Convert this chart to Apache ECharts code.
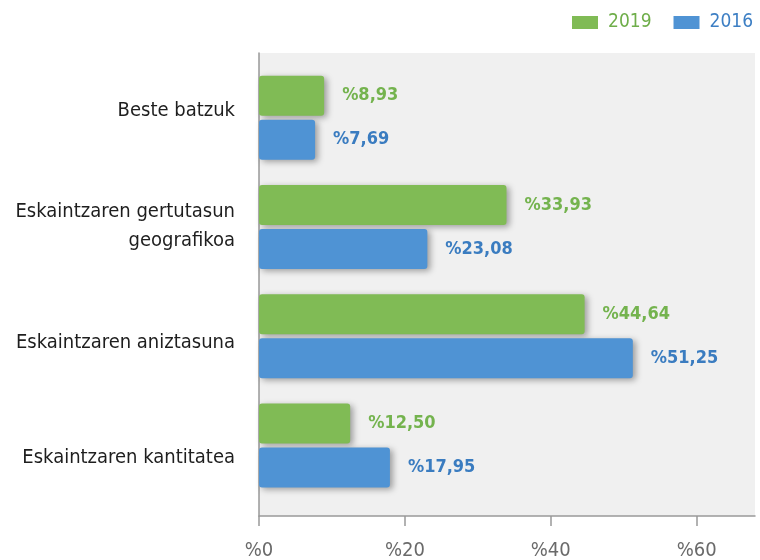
<!DOCTYPE html>
<html>
<head>
<meta charset="utf-8">
<script src="https://cdn.jsdelivr.net/npm/echarts@6/dist/echarts.min.js"></script>
<style>
  html, body { margin: 0; padding: 0; background: #fff; }
  #chart { width: 760px; height: 560px; }
</style>
</head>
<body>
<div id="chart"></div>
<script>
// data
const categories = [
  'Beste batzuk',
  'Eskaintzaren gertutasun\ngeografikoa',
  'Eskaintzaren aniztasuna',
  'Eskaintzaren kantitatea'
];
const values2019 = [8.93, 33.93, 44.64, 12.50];
const values2016 = [7.69, 23.08, 51.25, 17.95];
const xTicks = [0, 20, 40, 60];

const FONT = '"DejaVu Sans Condensed", "Liberation Sans Narrow", sans-serif';
const GREEN = '#80bb55';
const BLUE = '#4f93d4';

const pct = v => '%' + v.toFixed(2).replace('.', ',');

function barSeries(name, data, color, textColor) {
  return {
    name: name,
    type: 'bar',
    xAxisIndex: 1,
    yAxisIndex: 1,
    data: data,
    barWidth: 40,
    barGap: '10%',
    itemStyle: {
      color: color,
      borderRadius: 3,
      shadowColor: 'rgba(0,0,0,0.35)',
      shadowBlur: 6,
      shadowOffsetX: 3,
      shadowOffsetY: 2
    },
    label: {
      show: true,
      position: 'right',
      distance: 18,
      formatter: p => pct(p.value),
      color: textColor,
      fontFamily: FONT,
      fontWeight: 'bold',
      fontSize: 18
    }
  };
}

const chart = echarts.init(document.getElementById('chart'));

chart.setOption({
  animation: false,
  legend: {
    right: 2,
    top: 8,
    icon: 'rect',
    itemWidth: 26,
    itemHeight: 13,
    itemGap: 22,
    textStyle: { fontFamily: FONT, fontSize: 19, padding: [0, 0, 0, 5] },
    data: [
      { name: '2019', textStyle: { color: '#6fae4a' } },
      { name: '2016', textStyle: { color: '#3d7fc4' } }
    ]
  },
  grid: [
    // frame: grey panel, axes, category labels
    { left: 259, right: 5, top: 53, height: 463, show: true, outerBoundsMode: 'none',
      backgroundColor: '#f0f0f0', borderWidth: 0 },
    // bars sit in a slightly shorter band
    { left: 259, right: 5, top: 63, height: 437, outerBoundsMode: 'none' }
  ],
  xAxis: [
    {
      gridIndex: 0,
      type: 'value',
      min: 0,
      max: 68,
      axisLine: { show: true, lineStyle: { color: '#999', width: 1.5 } },
      axisTick: { show: true, length: 10, customValues: xTicks,
        lineStyle: { color: '#999', width: 1.5 } },
      splitLine: { show: false },
      axisLabel: {
        customValues: xTicks,
        formatter: v => '%' + v,
        margin: 25,
        color: '#6a6a6a',
        fontFamily: FONT,
        fontSize: 20
      }
    },
    { gridIndex: 1, type: 'value', min: 0, max: 68, show: false }
  ],
  yAxis: [
    {
      gridIndex: 0,
      type: 'category',
      data: categories,
      inverse: true,
      axisLine: { show: true, lineStyle: { color: '#999', width: 1.5 } },
      axisTick: { show: false },
      axisLabel: {
        margin: 24,
        color: '#1e1e1e',
        fontFamily: FONT,
        fontSize: 20,
        lineHeight: 29
      }
    },
    { gridIndex: 1, type: 'category', data: categories, inverse: true, show: false }
  ],
  series: [
    barSeries('2019', values2019, GREEN, '#74b34e'),
    barSeries('2016', values2016, BLUE, '#3a7cc0')
  ]
});
</script>
</body>
</html>
